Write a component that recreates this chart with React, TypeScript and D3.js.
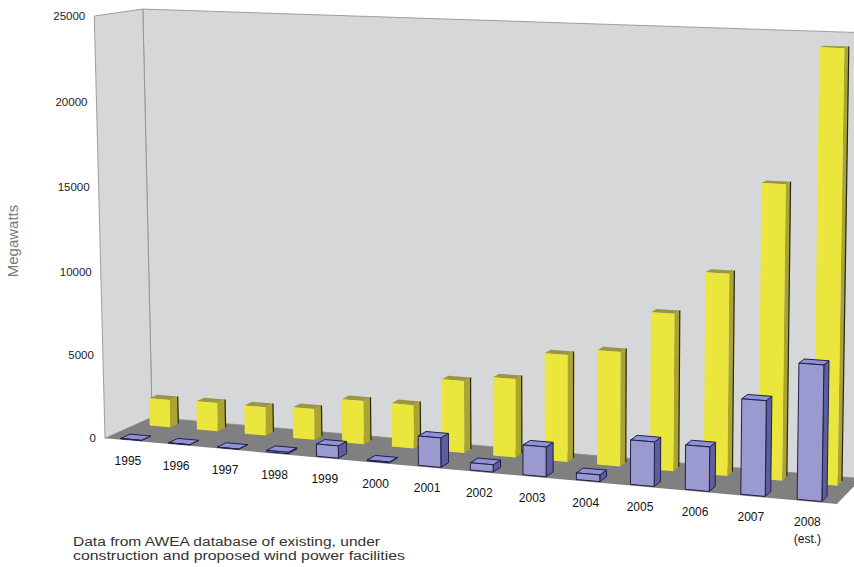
import React, { useEffect, useRef } from "react";
import * as d3 from "d3";

// US wind power capacity, megawatts
const years = ["1995", "1996", "1997", "1998", "1999", "2000", "2001", "2002", "2003", "2004", "2005", "2006", "2007", "2008"];
const cumulativeMW = [1670, 1730, 1720, 1860, 2590, 2590, 4260, 4610, 6250, 6650, 9050, 11530, 16700, 24300];
const annualMW = [10, 10, 10, 80, 720, 40, 1710, 420, 1710, 380, 2520, 2500, 5330, 7540];
const yTicks = [0, 5000, 10000, 15000, 20000, 25000];
const yMax = 25000;
const noteLines = [
  "Data from AWEA database of existing, under",
  "construction and proposed wind power facilities",
];

const WIDTH = 854;
const HEIGHT = 567;

// perspective camera: screen image of the floor's front-left corner,
// plus vanishing point and unit point of each world axis (x across, y up, z into depth)
const ORIGIN: [number, number] = [105, 438.3];
const AXES = {
  x: { vanish: [-7454, -240.5], unit: [837, 504] },
  y: { vanish: [560, 18363], unit: [94.3, 16] },
  z: { vanish: [1499, -185], unit: [152, 417] },
};

const axisColumn = (vanish: number[], unit: number[]) => {
  const dx = vanish[0] - unit[0];
  const dy = vanish[1] - unit[1];
  const k =
    ((unit[0] - ORIGIN[0]) * dx + (unit[1] - ORIGIN[1]) * dy) / (dx * dx + dy * dy);
  return [k * vanish[0], k * vanish[1], k];
};

const cx = axisColumn(AXES.x.vanish, AXES.x.unit);
const cy = axisColumn(AXES.y.vanish, AXES.y.unit);
const cz = axisColumn(AXES.z.vanish, AXES.z.unit);

const project = (x: number, y: number, z: number): [number, number] => {
  const w = 1 + x * cx[2] + y * cy[2] + z * cz[2];
  return [
    (ORIGIN[0] + x * cx[0] + y * cy[0] + z * cz[0]) / w,
    (ORIGIN[1] + x * cx[1] + y * cy[1] + z * cz[1]) / w,
  ];
};

const rows = [
  {
    key: "cumulative",
    values: cumulativeMW,
    z0: 0.66,
    z1: 0.84,
    front: "#ebe63b",
    top: "#9c9640",
    side: "#a9a530",
    stroke: "none",
  },
  {
    key: "annual",
    values: annualMW,
    z0: 0.04,
    z1: 0.24,
    front: "#9a9ad0",
    top: "#9090d6",
    side: "#5e5e9c",
    stroke: "#1f1f48",
  },
];

const App: React.FC = () => {
  const svgRef = useRef(null);

  useEffect(() => {
    const x = d3
      .scaleBand()
      .domain(years)
      .range([0, 1])
      .paddingInner(0.565)
      .paddingOuter(0.2825);
    const y = d3.scaleLinear().domain([0, yMax]).range([0, 1]);
    const line = d3.line();
    const poly = (pts: [number, number, number][]) =>
      line(pts.map((p) => project(p[0], p[1], p[2]))) + "Z";

    const svg = d3
      .select(svgRef.current)
      .attr("width", WIDTH)
      .attr("height", HEIGHT)
      .style("font-family", "'Liberation Sans', Arial, sans-serif");

    svg.append("rect").attr("width", WIDTH).attr("height", HEIGHT).attr("fill", "#fff");

    // walls and floor
    const walls = svg.append("g");
    walls
      .append("path")
      .attr("d", poly([[0, 0, 1], [1, 0, 1], [1, 1, 1], [0, 1, 1]]))
      .attr("fill", "#d6d7d9")
      .attr("stroke", "#8a8a8a")
      .attr("stroke-width", 0.8);
    walls
      .append("path")
      .attr("d", poly([[0, 0, 0], [0, 0, 1], [0, 1, 1], [0, 1, 0]]))
      .attr("fill", "#d6d7d9")
      .attr("stroke", "#8a8a8a")
      .attr("stroke-width", 0.8);
    walls
      .append("path")
      .attr("d", poly([[0, 0, 0], [1, 0, 0], [1, 0, 1], [0, 0, 1]]))
      .attr("fill", "#808080");

    // bars: back row first, left to right
    rows.forEach((row) => {
      const g = svg.append("g").attr("class", row.key);
      years.forEach((yr, i) => {
        const x0 = x(yr) as number;
        const x1 = x0 + x.bandwidth();
        const h = y(row.values[i]);
        const { z0, z1 } = row;
        const bar = g.append("g");
        const faces = [
          { pts: [[x1, 0, z0], [x1, 0, z1], [x1, h, z1], [x1, h, z0]], fill: row.side },
          { pts: [[x0, h, z0], [x1, h, z0], [x1, h, z1], [x0, h, z1]], fill: row.top },
          { pts: [[x0, 0, z0], [x1, 0, z0], [x1, h, z0], [x0, h, z0]], fill: row.front },
        ];
        faces.forEach((f) => {
          bar
            .append("path")
            .attr("d", poly(f.pts as [number, number, number][]))
            .attr("fill", f.fill)
            .attr("stroke", row.stroke)
            .attr("stroke-width", 1)
            .attr("stroke-linejoin", "round");
        });
        if (row.stroke === "none") {
          bar
            .append("path")
            .attr("d", line([project(x1, 0, z1), project(x1, h, z1)]))
            .attr("stroke", "#26260e")
            .attr("stroke-width", 1.2)
            .attr("fill", "none");
        }
      });
    });

    // y axis labels along the front-left edge
    svg
      .append("g")
      .selectAll("text")
      .data(yTicks)
      .enter()
      .append("text")
      .attr("x", (d) => project(0, y(d), 0)[0] - 9)
      .attr("y", (d) => project(0, y(d), 0)[1])
      .attr("dy", "0.35em")
      .attr("text-anchor", "end")
      .style("font-size", "11.5px")
      .style("fill", "#222")
      .text((d) => d);

    // year labels under the floor front edge
    const labels = svg
      .append("g")
      .selectAll("text")
      .data(years)
      .enter()
      .append("text")
      .attr("text-anchor", "middle")
      .attr("transform", (d) => {
        const p = project((x(d) as number) + x.bandwidth() / 2, 0, 0);
        return `translate(${p[0] - 1},${p[1] + 25})`;
      })
      .style("font-size", "12px")
      .style("fill", "#111");
    labels
      .append("tspan")
      .attr("x", 0)
      .text((d) => d);
    labels
      .filter((d) => d === "2008")
      .append("tspan")
      .attr("x", 0)
      .attr("dy", "1.4em")
      .text("(est.)");

    svg
      .append("text")
      .attr("transform", "translate(18,241) rotate(-90)")
      .attr("text-anchor", "middle")
      .style("font-size", "15px")
      .style("fill", "#7a7a7a")
      .text("Megawatts");

    const noteWidths = [307, 332];
    svg
      .append("g")
      .selectAll("text")
      .data(noteLines)
      .enter()
      .append("text")
      .attr("x", 73)
      .attr("y", (_, i) => 546 + i * 14)
      .attr("textLength", (_, i) => noteWidths[i])
      .attr("lengthAdjust", "spacingAndGlyphs")
      .style("font-size", "12px")
      .style("fill", "#333")
      .text((d) => d);

    return () => {
      svg.selectAll("*").remove();
    };
  }, []);

  return (
    <svg
      ref={svgRef}
      width={WIDTH}
      height={HEIGHT}
      style={{ position: "absolute", left: 0, top: 0 }}
    />
  );
};

export default App;
